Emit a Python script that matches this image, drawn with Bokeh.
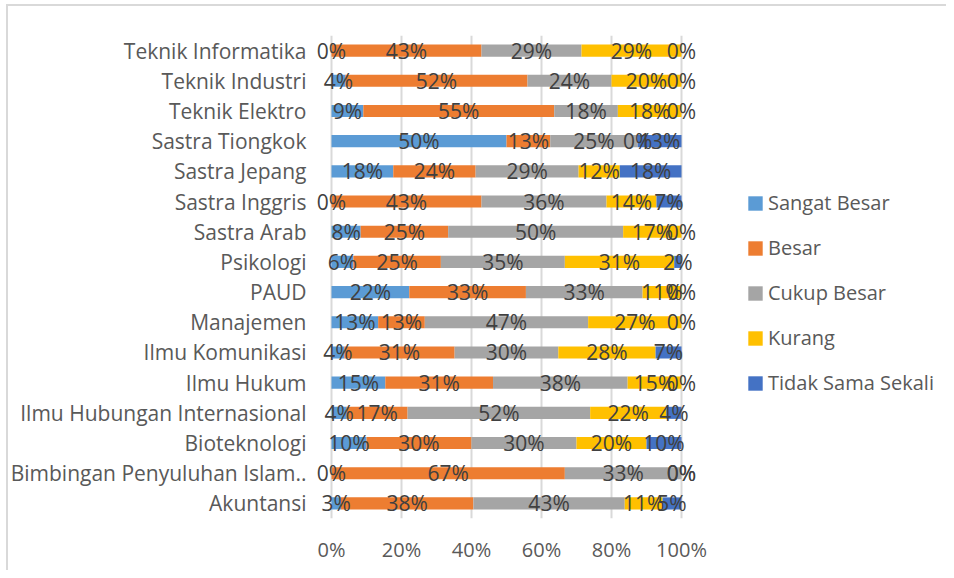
from bokeh.plotting import figure
from bokeh.models import ColumnDataSource, FactorRange, Legend, LegendItem, FixedTicker, Range1d
from bokeh.core.properties import value
from bokeh.embed import file_html
from bokeh.resources import INLINE

# Categories, top to bottom as shown
categories = [
    "Teknik Informatika", "Teknik Industri", "Teknik Elektro", "Sastra Tiongkok",
    "Sastra Jepang", "Sastra Inggris", "Sastra Arab", "Psikologi", "PAUD",
    "Manajemen", "Ilmu Komunikasi", "Ilmu Hukum", "Ilmu Hubungan Internasional",
    "Bioteknologi", "Bimbingan Penyuluhan Islam..", "Akuntansi",
]
series = ["Sangat Besar", "Besar", "Cukup Besar", "Kurang", "Tidak Sama Sekali"]
colors = ["#5B9BD5", "#ED7D31", "#A5A5A5", "#FFC000", "#4472C4"]

sangat_besar = [0, 4, 9.09, 50, 17.65, 0, 8.33, 6.25, 22.22, 13.33, 3.70, 15.38, 4.35, 10, 0, 2.70]
besar        = [42.86, 52, 54.55, 12.5, 23.53, 42.86, 25, 25, 33.33, 13.33, 31.48, 30.77, 17.39, 30, 66.67, 37.84]
cukup_besar  = [28.57, 24, 18.18, 25, 29.41, 35.71, 50, 35.42, 33.33, 46.67, 29.63, 38.46, 52.17, 30, 33.33, 43.24]
kurang       = [28.57, 20, 18.18, 0, 11.76, 14.29, 16.67, 31.25, 11.11, 26.67, 27.78, 15.38, 21.74, 20, 0, 10.81]
tidak        = [0, 0, 0, 12.5, 17.65, 7.14, 0, 2.08, 0, 0, 7.41, 0, 4.35, 10, 0, 5.41]

x_ticks = [0, 20, 40, 60, 80, 100]

values = [sangat_besar, besar, cukup_besar, kurang, tidak]

FONT = "Open Sans"
TXT = "#404040"
AX = "#595959"

data = {"cat": categories}
for name, vals in zip(series, values):
    data[name] = vals
source = ColumnDataSource(data)

# frame spans 316..946 px; 0% sits at 331 px, 100% at 681 px (3.5 px per %)
p = figure(
    width=946, height=570,
    y_range=FactorRange(*list(reversed(categories))),
    x_range=Range1d(-15 / 3.5, 615 / 3.5),
    output_backend="svg", toolbar_location=None,
    min_border_left=316, min_border_right=0,
    min_border_top=35, min_border_bottom=52,
)
p.outline_line_color = None
p.background_fill_color = "white"
p.border_fill_color = None
p.styles = {
    "background": "linear-gradient(#D9D9D9,#D9D9D9) 6px 4px / 2px 100% no-repeat, "
                  "linear-gradient(#D9D9D9,#D9D9D9) 6px 4px / 100% 2px no-repeat, white"
}

renderers = p.hbar_stack(series, y="cat", height=0.4, color=colors, source=source, line_color=None)

# data labels centered on each segment
for i, name in enumerate(series):
    starts = []
    for j in range(len(categories)):
        s = sum(values[k][j] for k in range(i))
        starts.append(s)
    mids = [s + v / 2 for s, v in zip(starts, values[i])]
    labels = ["%d%%" % int(v + 0.5) for v in values[i]]
    lsrc = ColumnDataSource({"x": mids, "y": categories, "t": labels})
    p.text(x="x", y="y", text="t", source=lsrc, text_align="center", text_baseline="middle",
           text_font=value(FONT), text_font_size="21px", text_color=TXT)

p.xaxis.ticker = FixedTicker(ticks=x_ticks)
p.xaxis.major_label_overrides = {t: "%d%%" % t for t in x_ticks}
for ax in (p.xaxis, p.yaxis):
    ax.axis_line_color = None
    ax.major_tick_line_color = None
    ax.minor_tick_line_color = None
    ax.major_label_text_font = FONT
    ax.major_label_text_font_size = "20px"
    ax.major_label_text_color = AX
p.yaxis.major_label_text_font_size = "21px"
p.xaxis.major_label_standoff = 11
p.yaxis.major_label_standoff = 4

p.ygrid.grid_line_color = None
p.xgrid.grid_line_color = "#D9D9D9"
p.xgrid.grid_line_width = 2

items = [LegendItem(label=n, renderers=[r]) for n, r in zip(series, renderers)]
legend = Legend(items=items, location=(430, 122), orientation="vertical")
legend.label_text_font = FONT
legend.label_text_font_size = "20px"
legend.label_text_color = AX
legend.glyph_width = 18
legend.glyph_height = 18
legend.label_height = 20
legend.label_standoff = 4
legend.spacing = 18
legend.padding = 0
legend.margin = 0
legend.border_line_color = None
legend.background_fill_alpha = 0
p.add_layout(legend, "center")

open("out.html", "w").write(file_html(p, INLINE))
